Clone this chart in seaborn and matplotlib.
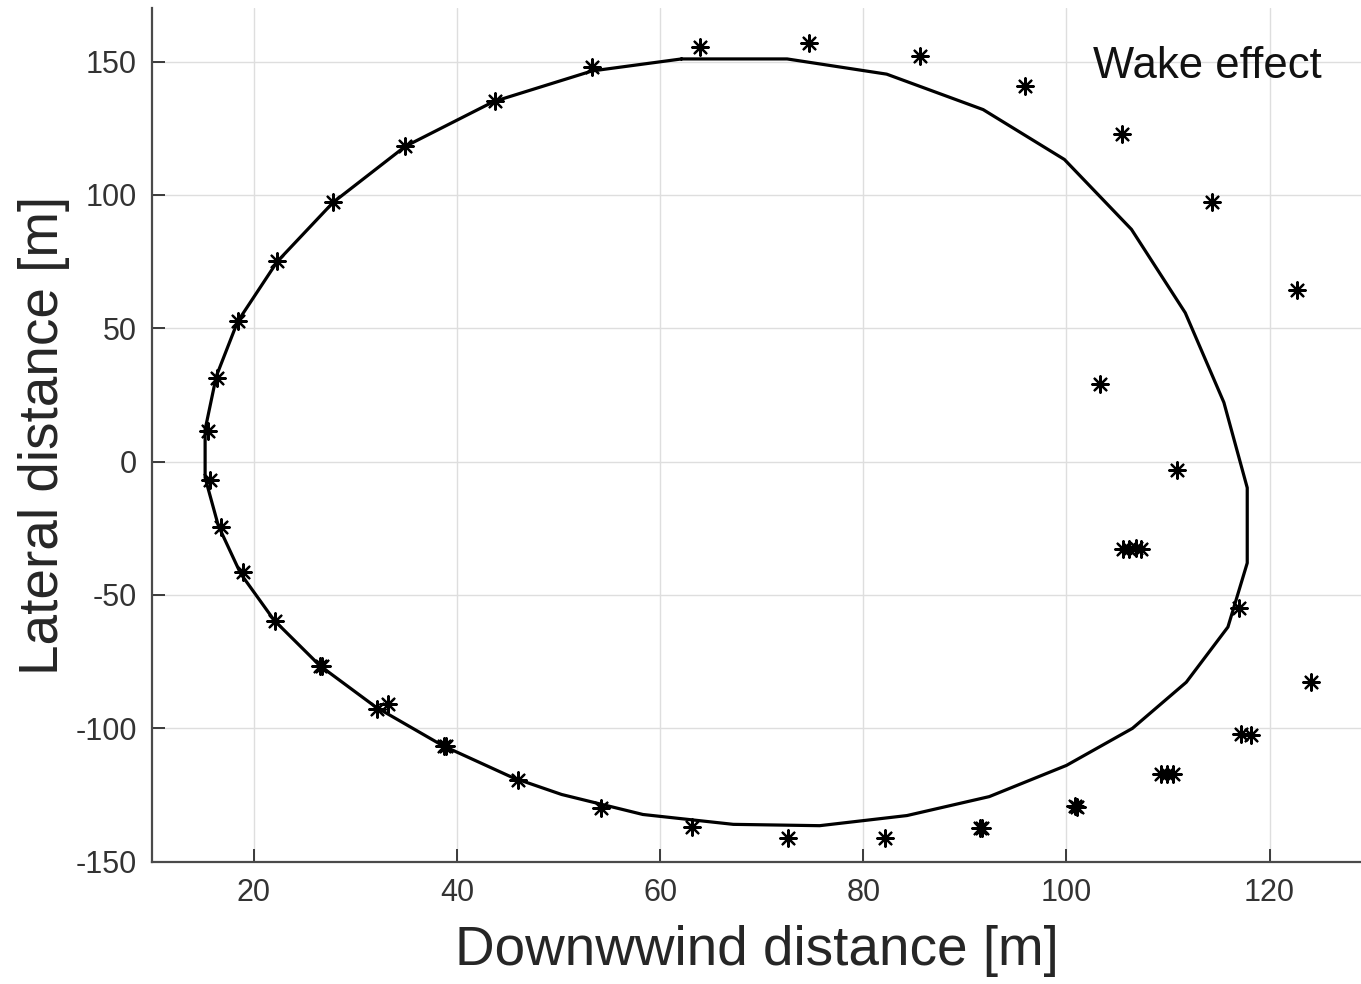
import numpy as np
import pandas as pd
import matplotlib
matplotlib.use("Agg")
import matplotlib.pyplot as plt
import seaborn as sns

# Boundary curve (closed polygon) vertices
curve_x = [62.1, 72.5, 82.3, 91.8, 99.8, 106.4, 111.7, 115.5, 117.8, 117.8, 115.9, 111.8,
           106.5, 100.0, 92.4, 84.3, 75.7, 67.2, 58.3, 50.3, 45.5, 38.6, 32.0, 26.5,
           22.0, 18.7, 16.5, 15.2, 15.2, 16.3, 18.4, 22.3, 27.8, 34.9, 43.6, 53.3]
curve_y = [151.0, 151.0, 145.3, 132.0, 113.3, 87.1, 55.8, 22.2, -9.8, -38.0, -62.0, -82.7,
           -100.0, -113.9, -125.6, -132.7, -136.5, -136.0, -132.3, -124.8, -118.5, -106.5, -92.0, -76.5,
           -59.5, -42.0, -24.0, -6.0, 12.0, 32.0, 52.5, 75.0, 97.2, 118.2, 135.0, 146.5]

# Asterisk points
pts_x = [63.9, 74.7, 85.6, 95.9, 105.5, 114.3, 122.7, 103.3, 110.9,
         105.6, 106.2, 106.8, 107.3,
         117.0, 124.1, 117.2, 118.2,
         109.3, 109.9, 110.5,
         100.8, 101.0, 91.5, 91.7, 82.1, 72.6, 63.1, 54.2, 46.0,
         38.7, 38.9, 33.2, 32.1, 26.5, 26.7, 22.1, 18.9, 16.8, 15.7,
         15.5, 16.4, 18.4, 22.3, 27.8, 34.9, 43.7, 53.3]
pts_y = [155.4, 156.9, 152.0, 140.7, 122.7, 97.2, 64.2, 29.3, -3.0,
         -32.6, -32.6, -32.4, -32.6,
         -54.8, -82.8, -102.3, -102.6,
         -117.0, -117.1, -117.0,
         -129.2, -129.4, -137.3, -137.5, -141.0, -141.0, -137.0, -130.0, -119.5,
         -106.5, -106.6, -90.7, -92.9, -76.6, -76.8, -59.9, -41.5, -24.5, -6.9,
         11.5, 31.3, 52.7, 75.2, 97.4, 118.4, 135.3, 148.1]

x_ticks = [20, 40, 60, 80, 100, 120]
y_ticks = [-150, -100, -50, 0, 50, 100, 150]

sns.set_theme(style="whitegrid")
plt.rcParams['font.family'] = ['Liberation Sans', 'DejaVu Sans']
plt.rcParams['axes.unicode_minus'] = False
plt.rcParams['xtick.bottom'] = True
plt.rcParams['ytick.left'] = True
plt.rcParams['xtick.major.size'] = 9.5
plt.rcParams['ytick.major.size'] = 9.5

fig = plt.figure(figsize=(13.61, 9.84), dpi=100)
ax = fig.add_axes([0.1119, 0.1243, 0.8881, 0.8673])

cx = curve_x + [curve_x[0]]
cy = curve_y + [curve_y[0]]
curve_df = pd.DataFrame({"x": cx, "y": cy, "order": np.arange(len(cx))})
sns.lineplot(data=curve_df, x="x", y="y", sort=False, estimator=None,
             color="black", linewidth=2.3, ax=ax)

pts_df = pd.DataFrame({"x": pts_x, "y": pts_y})
sns.scatterplot(data=pts_df, x="x", y="y", marker=(8, 2, 0), s=140,
                color="black", edgecolor="black", linewidth=1.6, ax=ax, zorder=3)

ax.set_xlim(10, 129)
ax.set_ylim(-150, 170)
ax.set_xticks(x_ticks)
ax.set_yticks(y_ticks)

ax.set_facecolor("white")
ax.grid(True, color="#dedede", linewidth=1.0)
for s in ["top", "right"]:
    ax.spines[s].set_visible(False)
for s in ["left", "bottom"]:
    ax.spines[s].set_visible(True)
    ax.spines[s].set_color("#4a4a4a")
    ax.spines[s].set_linewidth(1.6)

ax.tick_params(axis="both", which="major", bottom=True, left=True, top=False, right=False,
               direction="in", length=9.5, width=1.4, color="#3a3a3a",
               labelsize=22, labelcolor="#333333")
ax.tick_params(axis="x", pad=12)
ax.tick_params(axis="y", pad=11)

ax.set_xlabel("Downwwind distance [m]", fontsize=39.5, color="#262626", labelpad=12)
ax.set_ylabel("Lateral distance [m]", fontsize=39.5, color="#262626", labelpad=4)

ax.text(102.6, 148, "Wake effect", fontsize=31.4, color="#111111", ha="left", va="center")

fig.savefig("out.png", dpi=100, facecolor="white")
